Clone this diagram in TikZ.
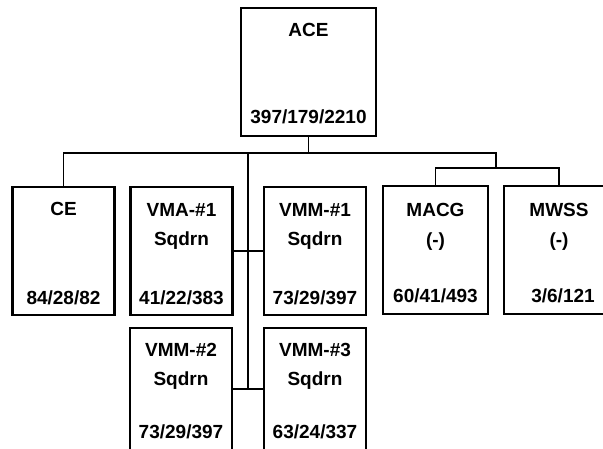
\documentclass[tikz,border=0pt]{standalone}
\usepackage{fontspec}
\setmainfont{Liberation Sans}
\usetikzlibrary{positioning,calc}

\begin{document}
\begin{tikzpicture}[x=1pt,y=-1pt,
  unitbox/.style={rectangle,draw,line width=2.6pt,minimum width=102pt,minimum height=128pt,inner sep=0pt},
  head/.style={anchor=base,font=\fontsize{19}{19}\selectfont\bfseries,inner sep=0pt},
  count/.style={anchor=base,font=\fontsize{19}{19}\selectfont\bfseries,inner sep=0pt},
  link/.style={line width=1.7pt}]
\useasboundingbox (0,0) rectangle (603,449);
\clip (0,0) rectangle (603,449);
\fill[white] (0,0) rectangle (603,449);

% Command element
\node[unitbox,minimum width=135pt] (ace) at (308.5,72) {};
\node[head] (aceA) at ([yshift=-30pt]ace.north) {ACE};
\node[count] (aceN) at ([yshift=14pt]ace.south) {397/179/2210};

% First row
\node[unitbox] (ce) at (63.5,251) {};
\node[head] (ceA) at ([yshift=-30pt]ce.north) {CE};
\node[count] (ceN) at ([yshift=12pt]ce.south) {84/28/82};

\node[unitbox] (vma) at (181.5,251) {};
\node[head] (vmaA) at ([yshift=-31pt]vma.north) {VMA-\#1};
\node[head] (vmaB) at ([yshift=-29pt]vmaA.base) {Sqdrn};
\node[count] (vmaN) at ([yshift=12pt]vma.south) {41/22/383};

\node[unitbox] (vmmA) at (315,251) {};
\node[head] (vmmAa) at ([yshift=-31pt]vmmA.north) {VMM-\#1};
\node[head] (vmmAb) at ([yshift=-29pt]vmmAa.base) {Sqdrn};
\node[count] (vmmAn) at ([yshift=12pt]vmmA.south) {73/29/397};

\node[unitbox,minimum width=105pt] (macg) at (435.5,250) {};
\node[head] (macgA) at ([yshift=-32pt]macg.north) {MACG};
\node[head] (macgB) at ([yshift=-30pt]macgA.base) {(-)};
\node[count] (macgN) at ([yshift=13pt]macg.south) {60/41/493};

\node[unitbox,minimum width=110pt] (mwss) at (559,250) {};
\node[head] (mwssA) at ([yshift=-32pt]mwss.north) {MWSS};
\node[head] (mwssB) at ([yshift=-30pt]mwssA.base) {(-)};
\node[count] (mwssN) at ([xshift=4pt,yshift=13pt]mwss.south) {3/6/121};

% Second row
\node[unitbox,minimum height=122pt] (vmmB) at (181,389) {};
\node[head] (vmmBa) at ([yshift=-30pt]vmmB.north) {VMM-\#2};
\node[head] (vmmBb) at ([yshift=-29pt]vmmBa.base) {Sqdrn};
\node[count] (vmmBn) at ([yshift=13pt]vmmB.south) {73/29/397};

\node[unitbox,minimum height=122pt] (vmmC) at (315,389) {};
\node[head] (vmmCa) at ([yshift=-30pt]vmmC.north) {VMM-\#3};
\node[head] (vmmCb) at ([yshift=-29pt]vmmCa.base) {Sqdrn};
\node[count] (vmmCn) at ([yshift=13pt]vmmC.south) {63/24/337};

% Connectors
\coordinate (bus) at (ace.south |- 0,153);
\coordinate (sub) at (496,168);
\coordinate (trunk) at ($(vmmB.east)!0.5!(vmmC.west)$);
\draw[link] (ace.south) -- (bus);
\draw[link] (ce.north) |- (bus) -| (sub);
\draw[link] (macg.north) |- (sub) -| (mwss.north);
\draw[link] (trunk |- bus) -- (trunk);
\draw[link] (vma.east) -- (vmmA.west);
\draw[link] (vmmB.east) -- (vmmC.west);
\end{tikzpicture}
\end{document}
